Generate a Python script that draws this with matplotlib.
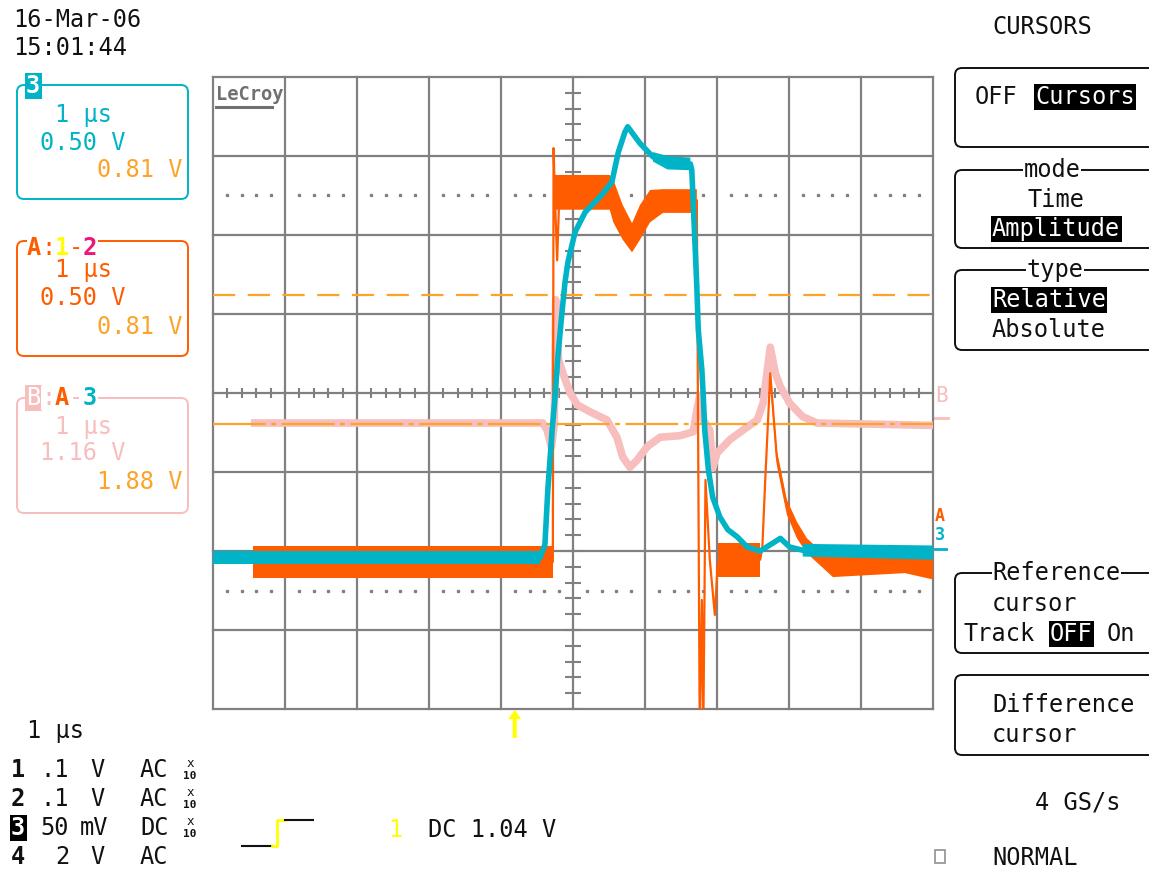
import numpy as np
import matplotlib.pyplot as plt
from matplotlib.patches import FancyBboxPatch, Rectangle, FancyArrow

plt.rcParams['font.family'] = ['DejaVu Sans Mono', 'DejaVu Sans']
plt.rcParams['lines.scale_dashes'] = False

# ---- traces, time in divisions (1 us/div, 0 = screen centre), amplitude in divisions ----
cyan_t = [-5.00, -0.46, -0.39, -0.35, -0.29, -0.25, -0.21, -0.15, -0.11, -0.07, 0.03, 0.17,
          0.40, 0.54, 0.63, 0.72, 0.76, 0.93, 1.11, 1.31, 1.63, 1.65, 1.68, 1.72, 1.74, 1.79,
          1.81, 1.83, 1.88, 1.94, 2.04, 2.15, 2.28, 2.42, 2.60, 2.74, 2.88, 3.01, 3.19, 3.43, 5.00]
cyan_v = [-2.09, -2.09, -1.92, -1.23, -0.47, -0.05, 0.46, 1.05, 1.41, 1.66, 2.04, 2.29,
          2.51, 2.67, 3.05, 3.30, 3.37, 3.16, 2.99, 2.91, 2.90, 2.82, 2.19, 1.34, 0.80, 0.29,
          -0.05, -0.47, -0.97, -1.32, -1.57, -1.73, -1.82, -1.95, -2.00, -1.92, -1.84, -1.95,
          -1.99, -2.01, -2.03]
# noise envelope of channel 3 on the flat parts
cyan_band_t = [-5.00, -0.46, np.nan, 1.11, 1.31, 1.63, np.nan, 3.19, 5.00]
cyan_band_lo = [-2.16, -2.16, np.nan, 2.93, 2.83, 2.82, np.nan, -2.07, -2.11]
cyan_band_hi = [-2.00, -2.00, np.nan, 3.05, 3.00, 2.98, np.nan, -1.91, -1.93]

orange_t = [-4.44, -0.28, -0.27, -0.25, -0.22, -0.19, 0.00, 0.47, 0.56, 0.69, 0.82, 0.93,
            1.07, 1.25, 1.72, 1.76, 1.79, 1.81, 1.84, 1.90, 1.97, 2.01, 2.60, 2.63, 2.67,
            2.74, 2.83, 2.97, 3.11, 3.25, 3.43, 3.61, 5.00]
orange_v = [-2.14, -2.14, 3.10, 2.44, 1.68, 2.51, 2.53, 2.57, 2.44, 2.16, 1.96, 2.16,
            2.35, 2.44, 2.44, -4.30, -2.62, -4.30, -1.10, -2.11, -2.81, -2.15, -2.11, -1.95,
            -1.10, 0.25, -0.81, -1.44, -1.73, -1.92, -2.08, -2.18, -2.18]
orange_band_t = [-4.44, -0.28, np.nan, -0.25, 0.51, 0.56, 0.69, 0.82, 0.93, 1.07, 1.25, 1.72,
                 np.nan, 2.01, 2.60, np.nan, 2.74, 2.83, 2.97, 3.11, 3.25, 3.43, 3.61, 4.61, 5.00]
orange_band_lo = [-2.34, -2.34, np.nan, 2.32, 2.32, 2.16, 1.94, 1.78, 1.94, 2.16, 2.28, 2.28,
                  np.nan, -2.33, -2.33, np.nan, 0.10, -0.91, -1.54, -1.84, -2.03, -2.18, -2.33,
                  -2.28, -2.36]
orange_band_hi = [-1.94, -1.94, np.nan, 2.76, 2.76, 2.70, 2.38, 2.15, 2.38, 2.57, 2.58, 2.58,
                  np.nan, -1.90, -1.90, np.nan, 0.25, -0.72, -1.35, -1.63, -1.84, -1.99, -2.03,
                  -2.03, -2.03]

pink_t = [-4.42, -0.42, -0.36, -0.30, -0.26, -0.24, -0.20, -0.14, -0.04, 0.06, 0.24, 0.47,
          0.61, 0.69, 0.79, 0.89, 1.03, 1.21, 1.49, 1.67, 1.72, 1.76, 1.81, 1.90, 1.94, 2.00,
          2.18, 2.36, 2.56, 2.64, 2.69, 2.74, 2.81, 2.88, 3.01, 3.19, 3.39, 5.00]
pink_v = [-0.38, -0.38, -0.47, -0.68, -0.40, 1.18, 0.42, 0.25, 0.00, -0.15, -0.24, -0.34,
          -0.56, -0.81, -0.94, -0.85, -0.68, -0.56, -0.54, -0.49, -0.22, -0.03, -0.34, -0.47,
          -0.95, -0.76, -0.59, -0.47, -0.34, -0.13, 0.23, 0.58, 0.25, 0.08, -0.13, -0.30,
          -0.38, -0.41]

cursor_levels = [1.24, -0.39]
trigger_t = -0.81

CYAN = '#00b3c7'
ORANGE = '#ff5c00'
PINK = '#f8bdbd'
AMBER = '#fca42a'
MAGENTA = '#f0147a'
YELLOW = '#ffff00'
GRID = '#808080'
INK = '#111111'

W, H = 1149, 871
fig = plt.figure(figsize=(W / 100, H / 100), dpi=100)
fig.patch.set_facecolor('white')

# overlay in pixel units for the instrument panel text
ui = fig.add_axes([0, 0, 1, 1], zorder=-1)
ui.set_xlim(0, W)
ui.set_ylim(H, 0)
ui.axis('off')

x0, x1, y0, y1 = 213, 933, 77, 709
ax = fig.add_axes([x0 / W, 1 - y1 / H, (x1 - x0) / W, (y1 - y0) / H])
ax.set_xlim(-5, 5)
ax.set_ylim(-4, 4)
ax.axis('off')

# graticule
for gx in range(-5, 6):
    ax.axvline(gx, color=GRID, lw=1.6, zorder=1, clip_on=False)
for gy in range(-4, 5):
    ax.axhline(gy, color=GRID, lw=1.6, zorder=1, clip_on=False)
ax.vlines(np.arange(-25, 26) / 5, -0.065, 0.065, color=GRID, lw=1.5, zorder=1)
ax.hlines(np.arange(-20, 21) / 5, -0.11, 0.11, color=GRID, lw=1.5, zorder=1)
dots = [k / 5 for k in range(-24, 25) if k % 5]
for lvl in (2.5, -2.5):
    ax.plot(dots, [lvl] * len(dots), ls='none', marker='s', ms=1.4, color=GRID, zorder=1)

# traces
ax.plot(pink_t, pink_v, color=PINK, lw=5.5, zorder=2, solid_joinstyle='round')
ax.axhline(cursor_levels[0], color=AMBER, lw=1.6, dashes=(16, 9), zorder=3)
ax.axhline(cursor_levels[1], color=AMBER, lw=1.6, dashes=(38, 4, 3.5, 4), zorder=3)
ax.fill_between(orange_band_t, orange_band_lo, orange_band_hi, color=ORANGE, lw=0, zorder=4)
ax.plot(orange_t, orange_v, color=ORANGE, lw=1.6, zorder=4)
ax.fill_between(cyan_band_t, cyan_band_lo, cyan_band_hi, color=CYAN, lw=0, zorder=5)
ax.plot(cyan_t, cyan_v, color=CYAN, lw=4, zorder=5, solid_joinstyle='round')

FS = 17


def txt(x, y, s, c=INK, fs=FS, ha='left', **kw):
    ui.text(x, y, s, color=c, fontsize=fs, ha=ha, va='center', **kw)


def inv(x, y, s, fg='white', bg='black', **kw):
    txt(x, y, s, fg, bbox=dict(boxstyle='square,pad=0.06', fc=bg, ec='none'), **kw)


def rbox(x, y, w, h, c, r=7):
    ui.add_patch(FancyBboxPatch((x, y), w, h, boxstyle=f'round,pad=0,rounding_size={r}',
                                fc='none', ec=c, lw=1.4))


WB = dict(boxstyle='square,pad=0.02', fc='white', ec='none')

# date / time
txt(13, 20, '16-Mar-06')
txt(13, 48, '15:01:44')

# left trace boxes
rbox(17, 85, 171, 114, CYAN)
inv(26, 86, '3', bg=CYAN, weight='bold')
txt(55, 115, '1 µs', CYAN)
txt(40, 143, '0.50 V', CYAN)
txt(97, 170, '0.81 V', AMBER)

rbox(17, 241, 171, 115, ORANGE)
for ch, xx, cc, wt in [('A', 27, ORANGE, 'bold'), (':', 41, ORANGE, 'normal'),
                       ('1', 55, YELLOW, 'bold'), ('-', 69, ORANGE, 'normal'),
                       ('2', 83, MAGENTA, 'bold')]:
    txt(xx, 248, ch, cc, weight=wt, bbox=WB)
txt(55, 270, '1 µs', ORANGE)
txt(40, 298, '0.50 V', ORANGE)
txt(97, 327, '0.81 V', AMBER)

rbox(17, 398, 171, 115, PINK)
inv(26, 398, 'B', bg=PINK)
for ch, xx, cc, wt in [(':', 41, PINK, 'normal'), ('A', 55, ORANGE, 'bold'),
                       ('-', 69, PINK, 'normal'), ('3', 83, CYAN, 'bold')]:
    txt(xx, 398, ch, cc, weight=wt, bbox=WB)
txt(55, 427, '1 µs', PINK)
txt(40, 453, '1.16 V', PINK)
txt(97, 482, '1.88 V', AMBER)

# logo
ui.text(216, 94, 'LeCroy', color='#707070', fontsize=13.5, weight='bold', ha='left', va='center')
ui.plot([216, 272], [107, 107], color='#707070', lw=2.2)

# trace markers right of the grid
txt(935, 396, 'B', PINK, fs=15)
ui.plot([935, 948], [418, 418], color=PINK, lw=2)
txt(935, 516, 'A', ORANGE, fs=12, weight='bold')
txt(935, 535, '3', CYAN, fs=12, weight='bold')
ui.plot([935, 946], [549, 549], color=CYAN, lw=2)

# trigger position arrow
tx = x0 + (trigger_t + 5) / 10 * (x1 - x0)
ui.add_patch(FancyArrow(tx, 738, 0, -28, width=4, head_width=13, head_length=9,
                        length_includes_head=True, color=YELLOW, lw=0))

# right menu
txt(992, 27, 'CURSORS')
for by, bh in [(68, 79), (170, 78), (270, 80), (573, 80), (675, 80)]:
    rbox(955, by, 230, bh, INK)
txt(975, 97, 'OFF')
inv(1035, 97, 'Cursors')
txt(1052, 170, 'mode', ha='center', bbox=WB)
txt(1027, 200, 'Time')
inv(992, 229, 'Amplitude')
txt(1055, 270, 'type', ha='center', bbox=WB)
inv(992, 300, 'Relative')
txt(992, 330, 'Absolute')
txt(992, 573, 'Reference', bbox=WB)
txt(992, 604, 'cursor')
txt(963, 634, 'Track')
inv(1050, 634, 'OFF')
txt(1107, 634, 'On')
txt(992, 705, 'Difference')
txt(992, 735, 'cursor')
txt(1035, 802, '4 GS/s')
ui.add_patch(Rectangle((935, 850), 10, 13, fc='none', ec='#909090', lw=1.2))
txt(992, 858, 'NORMAL')

# bottom channel settings
txt(27, 731, '1 µs')
rows_y = [770, 799, 828, 857]
ch_num = ['1', '2', '3', '4']
ch_val = ['.1', '.1', '50', '2']
ch_val_x = [40, 40, 40, 55]
ch_unit = ['V', 'V', 'mV', 'V']
ch_unit_x = [90, 90, 80, 90]
ch_cpl = ['AC', 'AC', 'DC', 'AC']
ch_probe = [True, True, True, False]
for i, y in enumerate(rows_y):
    if ch_num[i] == '3':
        inv(11, y, ch_num[i], weight='bold')
    else:
        txt(11, y, ch_num[i], weight='bold')
    txt(ch_val_x[i], y, ch_val[i])
    txt(ch_unit_x[i], y, ch_unit[i])
    txt(140, y, ch_cpl[i])
    if ch_probe[i]:
        txt(190, y - 7, 'x', fs=9, ha='center')
        txt(190, y + 6, '10', fs=8, ha='center', weight='bold')

# trigger symbol and level
ui.plot([242, 272], [846, 846], color=INK, lw=1.5)
ui.plot([272, 277, 277, 284], [846, 846, 820, 820], color=YELLOW, lw=2)
ui.plot([285, 313], [820, 820], color=INK, lw=1.5)
txt(388, 830, '1', YELLOW)
txt(428, 830, 'DC 1.04 V')

fig.savefig('out.png', dpi=100)
